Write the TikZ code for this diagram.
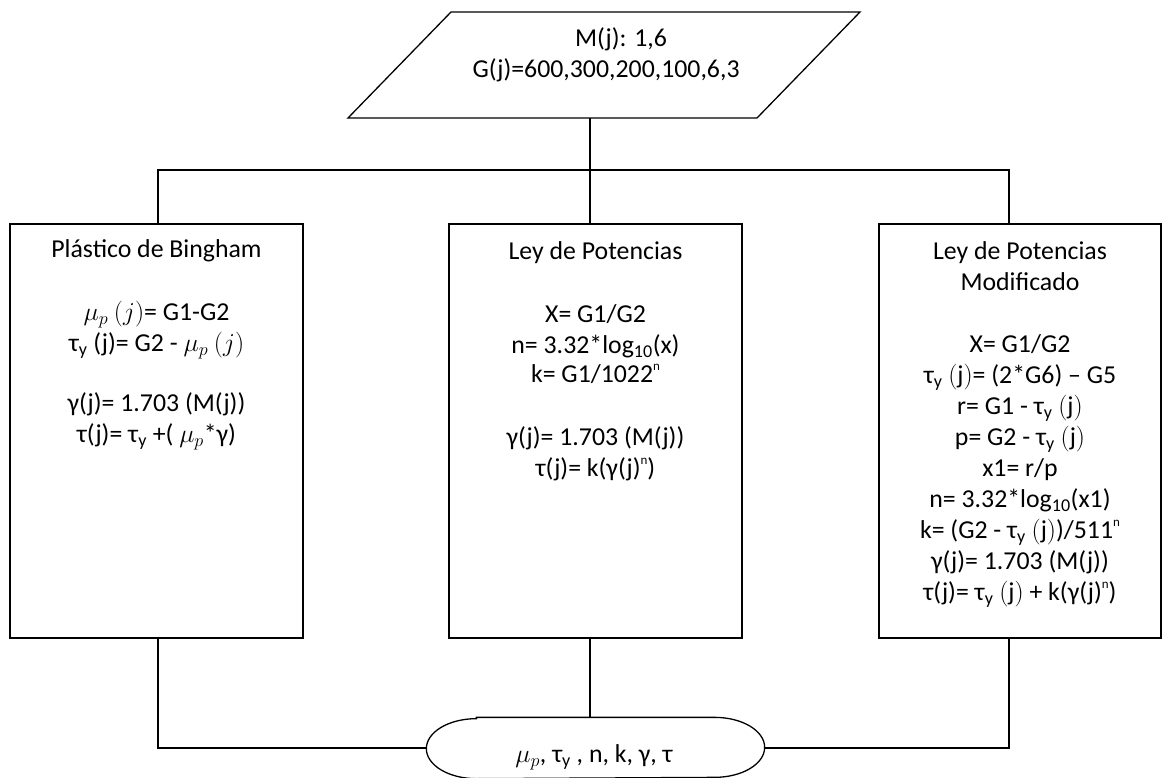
\documentclass[tikz,border=0pt]{standalone}
\usepackage{fix-cm}
\usepackage{fontspec}
\setmainfont{Carlito}
\newcommand{\tauy}{τ$_{\mathrm{y}}$}
\newcommand{\pw}[1]{\raisebox{0.5em}{\fontsize{13pt}{13pt}\selectfont #1}}
\begin{document}
\begin{tikzpicture}[x=1pt, y=1pt, line width=1.3pt,
    every node/.style={font=\fontsize{25.8pt}{31pt}\selectfont, inner sep=0pt},
    box/.style={rectangle, draw, minimum height=414pt},
    lines/.style={anchor=north, align=center}]
\useasboundingbox (0,0) rectangle (1164,-778);
% input data
\node[align=center] (input) at (606,-55) {\hspace*{30pt}M(j): 1,6\\G(j)=600,300,200,100,6,3};
\draw (451,-12) -- (860,-12) -- (757,-118) -- (348,-118) -- cycle;
\coordinate (inbot) at (590,-118);
\coordinate (split) at (590,-170);
% the three models
\node[box, minimum width=293pt] (bing) at (156.5,-431) {};
\node[box, minimum width=293pt] (ley) at (595.5,-431) {};
\node[box, minimum width=282pt] (mod) at (1020,-431) {};
\node[lines] (bingtxt) at ([yshift=-16pt]bing.north) {Plástico de Bingham\\[32pt]
    $\mu_p\ (j)$= G1-G2\\[0pt]
    \tauy{} (j)= G2 - $\mu_p\ (j)$\\[29pt]
    γ(j)= 1.703 (M(j))\\
    τ(j)= \tauy{} +( $\mu_p$*γ)};
\node[lines] (leytxt) at ([yshift=-18pt]ley.north) {Ley de Potencias\\[32pt]
    X= G1/G2\\
    n= 3.32*log\textsubscript{10}(x)\\[-2pt]
    k= G1/1022\pw{n}\\[32pt]
    γ(j)= 1.703 (M(j))\\
    τ(j)= k(γ(j)\pw{n})};
\node[lines] (modtxt) at ([yshift=-18pt]mod.north) {Ley de Potencias\\
    Modificado\\[31pt]
    X= G1/G2\\
    \tauy{} $(\mathrm{j})$= (2*G6) – G5\\
    r= G1 - \tauy{} $(\mathrm{j})$\\
    p= G2 - \tauy{} $(\mathrm{j})$\\
    x1= r/p\\
    n= 3.32*log\textsubscript{10}(x1)\\
    k= (G2 - \tauy{} $(\mathrm{j})$)/511\pw{n}\\
    γ(j)= 1.703 (M(j))\\
    τ(j)= \tauy{} $(\mathrm{j})$ + k(γ(j)\pw{n})};
% output
\node[minimum width=337pt, minimum height=60pt] (out) at (595.5,-748) {};
\draw ([xshift=50pt]out.north west) -- ([xshift=-50pt]out.north east)
    arc[start angle=90, end angle=-90, x radius=50pt, y radius=30pt]
    -- ([xshift=50pt]out.south west)
    arc[start angle=270, end angle=90, x radius=50pt, y radius=30pt] -- cycle;
\node (outtxt) at (594,-757) {$\mu_p$, τ$_{\mathrm{y}}$ , n, k, γ, τ};
% connectors
\draw (inbot) -- (split);
\draw ([xshift=1.5pt]bing.north) |- (split) -| ([xshift=-11pt]mod.north);
\draw (split) -- (split |- ley.north);
\draw ([xshift=1.5pt]bing.south) |- (out.west);
\draw ([xshift=-11pt]mod.south) |- (out.east);
\draw (split |- ley.south) -- (split |- out.north);
\end{tikzpicture}
\end{document}
